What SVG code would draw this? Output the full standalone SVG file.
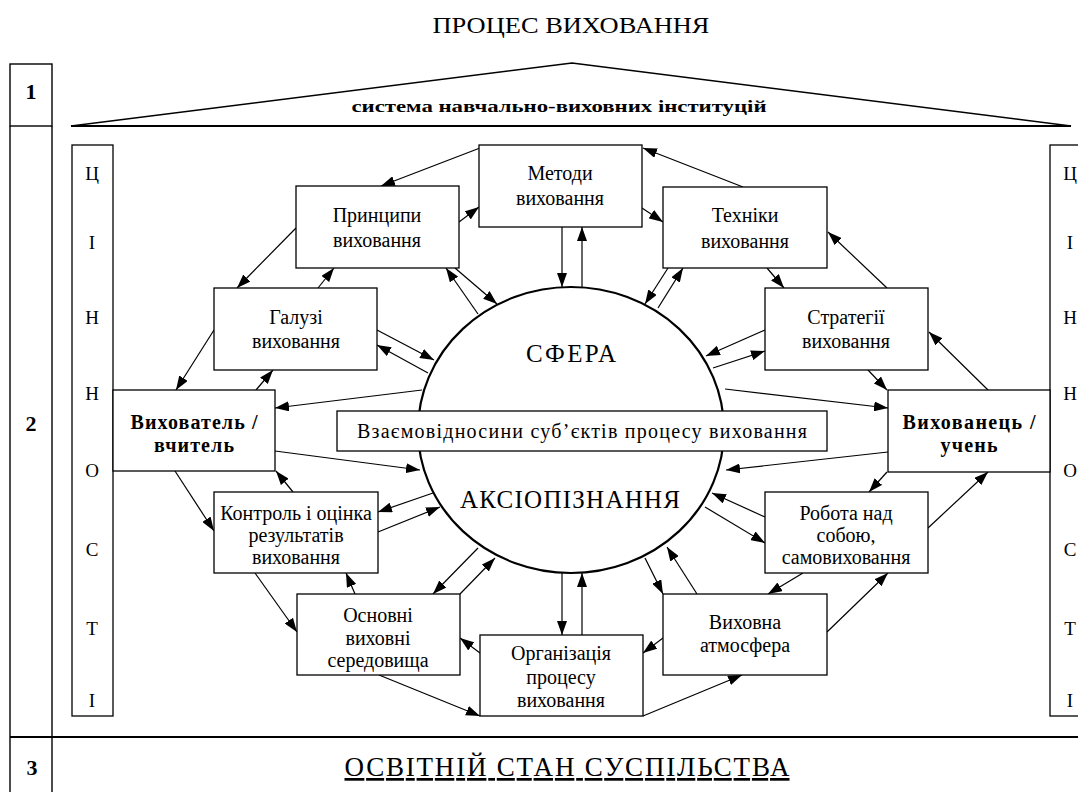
<svg xmlns="http://www.w3.org/2000/svg" width="1078" height="792" viewBox="0 0 1078 792">
<style>
.bg{fill:#fff}
.frame{fill:none;stroke:#000;stroke-width:1.4}
.box{fill:#fff;stroke:#000;stroke-width:1.3}
text{font-family:'Liberation Serif','Times New Roman',serif}
.t{font-size:20px;fill:#000;text-anchor:middle}
.b{font-weight:bold}
.c{stroke:#000;stroke-width:1.2;fill:none;marker-end:url(#ah)}
.v{font-size:19px;fill:#000;text-anchor:middle}
</style>
<defs>
<marker id="ah" markerUnits="userSpaceOnUse" markerWidth="14" markerHeight="10" viewBox="0 0 14 10" refX="14" refY="5" orient="auto"><path d="M0,0 L14,5 L0,10 z" fill="#000"/></marker>
</defs>
<rect class="bg" x="0" y="0" width="1078" height="792"/>

<g id="title">
<text class="t" x="571" y="33" textLength="277" lengthAdjust="spacingAndGlyphs" style="font-size:23px">ПРОЦЕС ВИХОВАННЯ</text>
</g>

<g id="frame">
<rect class="frame" x="10" y="64" width="42" height="62"/>
<line class="frame" x1="10" y1="126" x2="10" y2="792"/>
<line class="frame" x1="52" y1="126" x2="52" y2="792"/>
<line x1="10" y1="737" x2="1078" y2="737" stroke="#000" stroke-width="2.2"/>
<text class="t b" x="31" y="99" style="font-size:22px">1</text>
<text class="t b" x="31" y="431" style="font-size:22px">2</text>
<text class="t b" x="32" y="775" style="font-size:22px">3</text>
</g>

<g id="institutions">
<path d="M71,126 L572,63 L1071,126 Z" fill="none" stroke="#000" stroke-width="1.6"/>
<line x1="71" y1="126" x2="1071" y2="126" stroke="#000" stroke-width="2.2"/>
<text class="t b" x="559" y="112" textLength="415" lengthAdjust="spacingAndGlyphs" style="font-size:17px">система навчально-виховних інституцій</text>
</g>

<g id="values-left">
<rect class="box" x="72" y="145" width="41" height="571"/>
<text class="v" x="92" y="180">Ц</text>
<text class="v" x="92" y="249">І</text>
<text class="v" x="92" y="324">Н</text>
<text class="v" x="92" y="400">Н</text>
<text class="v" x="92" y="477">О</text>
<text class="v" x="92" y="556">С</text>
<text class="v" x="92" y="635">Т</text>
<text class="v" x="92" y="707">І</text>
</g>

<g id="values-right">
<rect class="box" x="1050" y="145" width="41" height="571"/>
<text class="v" x="1070" y="180">Ц</text>
<text class="v" x="1070" y="249">І</text>
<text class="v" x="1070" y="324">Н</text>
<text class="v" x="1070" y="400">Н</text>
<text class="v" x="1070" y="477">О</text>
<text class="v" x="1070" y="556">С</text>
<text class="v" x="1070" y="635">Т</text>
<text class="v" x="1070" y="707">І</text>
</g>

<g id="connectors">
<line class="c" x1="480" y1="148" x2="381" y2="186"/>
<line class="c" x1="296" y1="228" x2="237" y2="288"/>
<line class="c" x1="214" y1="330" x2="176" y2="390"/>
<line class="c" x1="256" y1="390" x2="273" y2="370"/>
<line class="c" x1="318" y1="288" x2="334" y2="268"/>
<line class="c" x1="459" y1="222" x2="479" y2="207"/>
<line class="c" x1="642" y1="208" x2="663" y2="222"/>
<line class="c" x1="743" y1="187" x2="643" y2="148"/>
<line class="c" x1="767" y1="268" x2="784" y2="288"/>
<line class="c" x1="887" y1="288" x2="828" y2="232"/>
<line class="c" x1="868" y1="370" x2="887" y2="390"/>
<line class="c" x1="988" y1="390" x2="929" y2="332"/>
<line class="c" x1="887" y1="472" x2="869" y2="492"/>
<line class="c" x1="928" y1="528" x2="988" y2="472"/>
<line class="c" x1="803" y1="573" x2="768" y2="594"/>
<line class="c" x1="827" y1="632" x2="888" y2="573"/>
<line class="c" x1="663" y1="638" x2="643" y2="653"/>
<line class="c" x1="643" y1="716" x2="742" y2="675"/>
<line class="c" x1="379" y1="675" x2="480" y2="716"/>
<line class="c" x1="480" y1="653" x2="460" y2="638"/>
<line class="c" x1="255" y1="573" x2="297" y2="632"/>
<line class="c" x1="355" y1="594" x2="346" y2="573"/>
<line class="c" x1="175" y1="471" x2="214" y2="531"/>
<line class="c" x1="293" y1="492" x2="276" y2="471"/>

<line class="c" x1="562" y1="227" x2="562" y2="287"/>
<line class="c" x1="582" y1="287" x2="582" y2="227"/>
<line class="c" x1="455" y1="268" x2="497" y2="304"/>
<line class="c" x1="478" y1="314" x2="446" y2="268"/>
<line class="c" x1="668" y1="268" x2="645" y2="304"/>
<line class="c" x1="658" y1="308" x2="683" y2="268"/>
<line class="c" x1="377" y1="330" x2="434" y2="360"/>
<line class="c" x1="428" y1="373" x2="377" y2="345"/>
<line class="c" x1="765" y1="330" x2="706" y2="356"/>
<line class="c" x1="713" y1="368" x2="765" y2="351"/>
<line class="c" x1="422" y1="390" x2="275" y2="408"/>
<line class="c" x1="275" y1="451" x2="420" y2="470"/>
<line class="c" x1="725" y1="389" x2="888" y2="408"/>
<line class="c" x1="888" y1="452" x2="726" y2="470"/>
<line class="c" x1="433" y1="493" x2="378" y2="512"/>
<line class="c" x1="378" y1="532" x2="440" y2="507"/>
<line class="c" x1="765" y1="517" x2="712" y2="493"/>
<line class="c" x1="705" y1="507" x2="765" y2="543"/>
<line class="c" x1="478" y1="548" x2="433" y2="594"/>
<line class="c" x1="460" y1="594" x2="495" y2="558"/>
<line class="c" x1="562" y1="573" x2="562" y2="635"/>
<line class="c" x1="582" y1="635" x2="582" y2="573"/>
<line class="c" x1="645" y1="558" x2="663" y2="594"/>
<line class="c" x1="697" y1="594" x2="667" y2="547"/>
</g>

<g id="sphere">
<ellipse cx="571" cy="430" rx="153" ry="143" fill="#fff" stroke="#000" stroke-width="2.2"/>
<text class="t" x="571" y="362" textLength="90" style="font-size:25px">СФЕРА</text>
<text class="t" x="570" y="508" textLength="220" style="font-size:25px">АКСІОПІЗНАННЯ</text>
</g>

<g id="relations">
<rect class="box" x="337" y="411" width="490" height="40"/>
<text class="t" x="582" y="438" textLength="450">Взаємовідносини суб’єктів процесу виховання</text>
</g>

<g id="methods">
<rect class="box" x="479" y="145" width="163" height="82"/>
<text class="t" x="560" y="180">Методи</text>
<text class="t" x="560" y="205">виховання</text>
</g>
<g id="principles">
<rect class="box" x="296" y="186" width="163" height="82"/>
<text class="t" x="377" y="222">Принципи</text>
<text class="t" x="377" y="247">виховання</text>
</g>
<g id="techniques">
<rect class="box" x="663" y="187" width="164" height="81"/>
<text class="t" x="745" y="222">Техніки</text>
<text class="t" x="745" y="248">виховання</text>
</g>
<g id="branches">
<rect class="box" x="214" y="288" width="163" height="82"/>
<text class="t" x="296" y="324">Галузі</text>
<text class="t" x="296" y="348">виховання</text>
</g>
<g id="strategies">
<rect class="box" x="765" y="288" width="163" height="82"/>
<text class="t" x="846" y="324">Стратегії</text>
<text class="t" x="846" y="348">виховання</text>
</g>
<g id="educator">
<rect class="box" x="113" y="390" width="162" height="81"/>
<text class="t b" x="194" y="429" textLength="127">Вихователь /</text>
<text class="t b" x="194" y="452" textLength="80">вчитель</text>
</g>
<g id="pupil">
<rect class="box" x="888" y="390" width="162" height="82"/>
<text class="t b" x="969" y="429" textLength="133">Вихованець /</text>
<text class="t b" x="969" y="452" textLength="57">учень</text>
</g>
<g id="control">
<rect class="box" x="214" y="492" width="164" height="81"/>
<text class="t" x="296" y="520">Контроль і оцінка</text>
<text class="t" x="296" y="542">результатів</text>
<text class="t" x="296" y="564">виховання</text>
</g>
<g id="selfwork">
<rect class="box" x="765" y="492" width="163" height="81"/>
<text class="t" x="846" y="520">Робота над</text>
<text class="t" x="846" y="542">собою,</text>
<text class="t" x="846" y="564">самовиховання</text>
</g>
<g id="environments">
<rect class="box" x="297" y="594" width="163" height="81"/>
<text class="t" x="378" y="622">Основні</text>
<text class="t" x="378" y="645">виховні</text>
<text class="t" x="378" y="667">середовища</text>
</g>
<g id="atmosphere">
<rect class="box" x="663" y="594" width="164" height="81"/>
<text class="t" x="745" y="629">Виховна</text>
<text class="t" x="745" y="652">атмосфера</text>
</g>
<g id="organization">
<rect class="box" x="480" y="635" width="163" height="81"/>
<text class="t" x="561" y="660">Організація</text>
<text class="t" x="561" y="684">процесу</text>
<text class="t" x="561" y="707">виховання</text>
</g>

<g id="society">
<text class="t" x="567" y="776" textLength="445" style="font-size:27px;text-decoration:underline">ОСВІТНІЙ СТАН СУСПІЛЬСТВА</text>
</g>
</svg>
